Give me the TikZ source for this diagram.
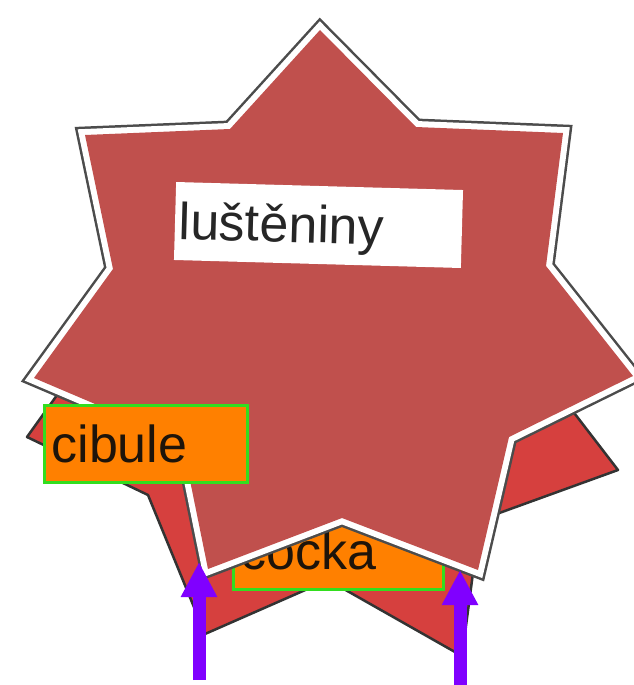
\documentclass[tikz,border=0pt]{standalone}
\usepackage{fontspec}
\setmainfont{Liberation Sans}
\usetikzlibrary{arrows.meta}
\definecolor{starred}{RGB}{192,80,77}
\definecolor{backred}{RGB}{214,64,62}
\definecolor{boxorange}{RGB}{255,128,0}
\definecolor{boxgreen}{RGB}{50,222,30}
\definecolor{arrowviolet}{RGB}{128,0,255}
\definecolor{inkdark}{RGB}{30,20,10}
\begin{document}
\begin{tikzpicture}[x=1pt,y=-1pt,
  backstar/.style={fill=backred, draw=black!80, line width=2.5pt, line join=round},
  starblack/.style={draw=black!70, line width=17pt},
  starwhite/.style={draw=white, line width=12pt},
  starfill/.style={fill=starred},
  orangebox/.style={fill=boxorange, draw=boxgreen, line width=3pt, outer sep=0pt,
    minimum height=77pt, text height=40pt, text depth=4pt, inner xsep=7pt, inner ysep=0pt,
    align=left, font=\fontsize{52}{52}\selectfont, text=inkdark, anchor=west},
  whitebox/.style={fill=white, outer sep=0pt, minimum height=78pt, text height=40pt,
    text depth=4pt, inner xsep=4pt, inner ysep=0pt, align=left,
    font=\fontsize{52}{52}\selectfont, text=black!85},
  upArrow/.style={draw=arrowviolet, line width=13pt,
    -{Triangle[length=35pt,width=34pt]}}
]
\useasboundingbox (0,0) rectangle (634,685);

% star behind (3D, partly hidden)
\path[backstar] (27,437) -- (148,495) -- (205,634) -- (328,580) -- (462,656)
  -- (480,520) -- (618,470) -- (545,375) -- (520,300) -- (330,200)
  -- (150,300) -- (75,370) -- cycle;

% box under the main star
\node[orangebox, text width=196pt] (cocka) at (233.5,551) {čočka};

% main seven-pointed star
\def\mainstar{(320,30) -- (416,127) -- (563,133) -- (546,266) -- (633,376)
  -- (509,437) -- (478,570) -- (342,518) -- (208,569) -- (182,441)
  -- (34,378) -- (113,269) -- (85,135) -- (230,129) -- cycle}
\path[starblack] \mainstar;
\path[starwhite] \mainstar;
\path[starfill] \mainstar;

% boxes above the star
\node[orangebox, text width=189pt] (cibule) at (44.5,444) {cibule};
\node[whitebox, text width=279pt, rotate=-1.6] (lusteniny) at (318.5,225) {luštěniny};

% arrows
\coordinate (a1s) at (199,680);
\coordinate (a1e) at (199,562);
\coordinate (a2s) at (460,688);
\coordinate (a2e) at (460,570);
\draw[upArrow] (a1s) -- (a1e);
\draw[upArrow] (a2s) -- (a2e);
\end{tikzpicture}
\end{document}
